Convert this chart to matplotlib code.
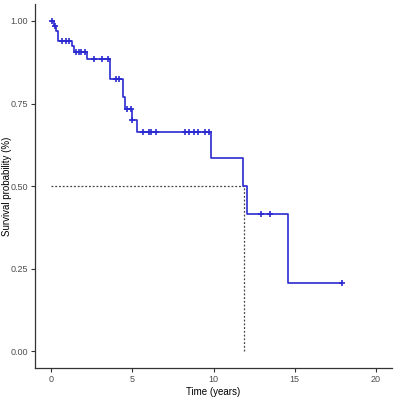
import matplotlib
matplotlib.use("Agg")
import matplotlib.pyplot as plt
import numpy as np

plt.rcParams['font.family'] = ['Liberation Sans', 'DejaVu Sans']

# Kaplan-Meier steps (time of event, survival after event)
event_times = [0.0, 0.17, 0.30, 0.42, 1.30, 1.42, 2.20, 3.62, 4.40, 4.56, 4.95,
               5.30, 9.82, 11.82, 12.07, 14.60]
survival = [1.0, 0.985, 0.97, 0.94, 0.925, 0.905, 0.885, 0.825, 0.77, 0.735, 0.70,
            0.665, 0.585, 0.50, 0.415, 0.207]
end_time = 17.93

# censored observations
censor_times = [0.05, 0.2, 0.66, 0.92, 1.12, 1.52, 1.70, 1.86, 2.10, 2.64, 3.13, 3.50,
                3.99, 4.17, 4.68, 4.90, 5.0, 5.64, 6.01, 6.13, 6.44, 8.22, 8.47, 8.77,
                9.02, 9.45, 9.75, 12.94, 13.50, 17.93]

median_time = 11.85
median_surv = 0.5

x_ticks = [0, 5, 10, 15, 20]
y_ticks = [0.0, 0.25, 0.5, 0.75, 1.0]

fig = plt.figure(figsize=(3.94, 3.97), dpi=100)
ax = fig.add_axes([0.089, 0.073, 0.906, 0.916])

t = np.array(event_times + [end_time])
s = np.array(survival + [survival[-1]])
line_col = '#2a2ad0'
ax.step(t, s, where='post', color=line_col, lw=1.2, zorder=3)

ct = np.array(censor_times)
idx = np.searchsorted(np.array(event_times), ct, side='right') - 1
cs = np.array(survival)[idx]
ax.plot(ct, cs, '+', color=line_col, ms=5, mew=1.2, zorder=4)

# median survival guides
ax.plot([0, median_time], [median_surv, median_surv], color='#444444',
        ls=(0, (1.5, 1.5)), lw=0.9, zorder=2)
ax.plot([median_time, median_time], [0, median_surv], color='#444444',
        ls=(0, (1.5, 1.5)), lw=0.9, zorder=2)

ax.set_xlim(-1, 21)
ax.set_ylim(-0.05, 1.05)
ax.set_xticks(x_ticks)
ax.set_yticks(y_ticks)
ax.set_yticklabels([f"{v:.2f}" for v in y_ticks])
ax.spines['top'].set_visible(False)
ax.spines['right'].set_visible(False)
for sp in ['left', 'bottom']:
    ax.spines[sp].set_color('#333333')
    ax.spines[sp].set_linewidth(0.9)
ax.tick_params(axis='both', direction='out', length=3, width=0.8,
               colors='#333333', labelsize=6.5, labelcolor='#4d4d4d', pad=2)
ax.set_xlabel('Time (years)', fontsize=7, labelpad=2)
ax.set_ylabel('Survival probability (%)', fontsize=7)
ax.yaxis.set_label_coords(-0.065, 0.5)

fig.savefig('out.png', dpi=100)
